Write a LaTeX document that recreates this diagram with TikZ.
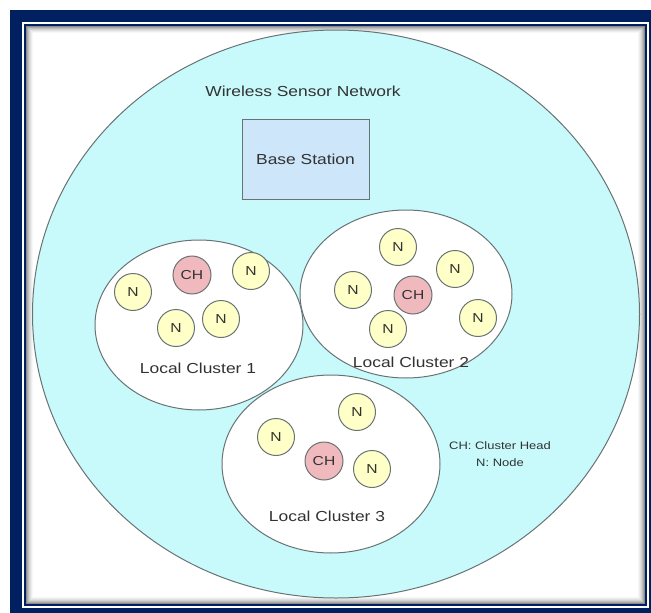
\documentclass[tikz,border=0pt]{standalone}
\usepackage{fontspec}
\setmainfont{Liberation Sans}
\newfontfamily\widefont{Liberation Sans}[FakeStretch=1.2]
\usetikzlibrary{shapes.geometric}
\definecolor{frameNavy}{RGB}{0,32,96}
\definecolor{netCyan}{RGB}{200,250,252}
\definecolor{bsBlue}{RGB}{205,230,250}
\definecolor{nYellow}{RGB}{255,255,200}
\definecolor{chPink}{RGB}{240,185,190}
\definecolor{edgeGray}{RGB}{105,115,115}
\definecolor{txtGray}{RGB}{50,50,50}
\tikzset{
  cluster/.style={ellipse, draw=edgeGray, fill=white, line width=1pt, inner sep=0pt},
  sensor/.style={circle, draw=edgeGray, fill=nYellow, line width=1pt, minimum size=37pt,
    inner sep=0pt, text=txtGray, font=\widefont\fontsize{13}{15}\selectfont},
  head/.style={sensor, fill=chPink, minimum size=38pt},
  lbl/.style={text=txtGray, font=\widefont\fontsize{14.5}{17}\selectfont},
}

\begin{document}
\begin{tikzpicture}[x=1pt, y=-1pt]
    \useasboundingbox (0,0) rectangle (651,613);
    % frame
    \fill[frameNavy] (10,10) rectangle (651,613);
    \fill[white] (22,22) rectangle (649,608);
    \draw[frameNavy, line width=2pt] (25,25) rectangle (646,605);
    \foreach \i/\s in {0/45,1/34,2/25,3/18,4/12,5/7,6/3}
      \draw[black!\s, line width=1pt] (26.5+\i,26.5+\i) rectangle (644.5-\i,603.5-\i);
    % network area
    \node[ellipse, draw=edgeGray, fill=netCyan, line width=1pt, inner sep=0pt,
      minimum width=607pt, minimum height=568pt] (wsn) at (336,314) {};
    \node[lbl] (title) at (303,91) {Wireless Sensor Network};
    \node[draw=edgeGray, fill=bsBlue, line width=1pt, minimum width=127pt, minimum height=80pt,
      lbl] (bs) at (305.5,159) {Base Station};
    % clusters
    \node[cluster, minimum width=208pt, minimum height=170pt] (c1) at (199,325) {};
    \node[cluster, minimum width=212pt, minimum height=168pt] (c2) at (406,294) {};
    \node[cluster, minimum width=218pt, minimum height=178pt] (c3) at (331,464) {};
    % cluster 1
    \node[sensor] (n11) at (133,292) {N};
    \node[head]   (ch1) at (192,275) {CH};
    \node[sensor] (n12) at (251,271) {N};
    \node[sensor] (n13) at (176,328) {N};
    \node[sensor] (n14) at (221,319) {N};
    \node[lbl] (l1) at (198,368) {Local Cluster 1};
    % cluster 2
    \node[sensor] (n21) at (398,247) {N};
    \node[sensor] (n22) at (455,269) {N};
    \node[sensor] (n23) at (353,290) {N};
    \node[head]   (ch2) at (413,295) {CH};
    \node[sensor] (n24) at (388,329) {N};
    \node[sensor] (n25) at (478,318) {N};
    \node[lbl] (l2) at (411,362) {Local Cluster 2};
    % cluster 3
    \node[sensor] (n31) at (357,412) {N};
    \node[sensor] (n32) at (276,437) {N};
    \node[head]   (ch3) at (324,461) {CH};
    \node[sensor] (n33) at (372,469) {N};
    \node[lbl] (l3) at (327,516) {Local Cluster 3};
    % legend
    \node[text=txtGray, align=center, font=\widefont\fontsize{10.8}{17}\selectfont]
      (legend) at (500,454) {CH: Cluster Head\\N: Node};
\end{tikzpicture}
\end{document}
